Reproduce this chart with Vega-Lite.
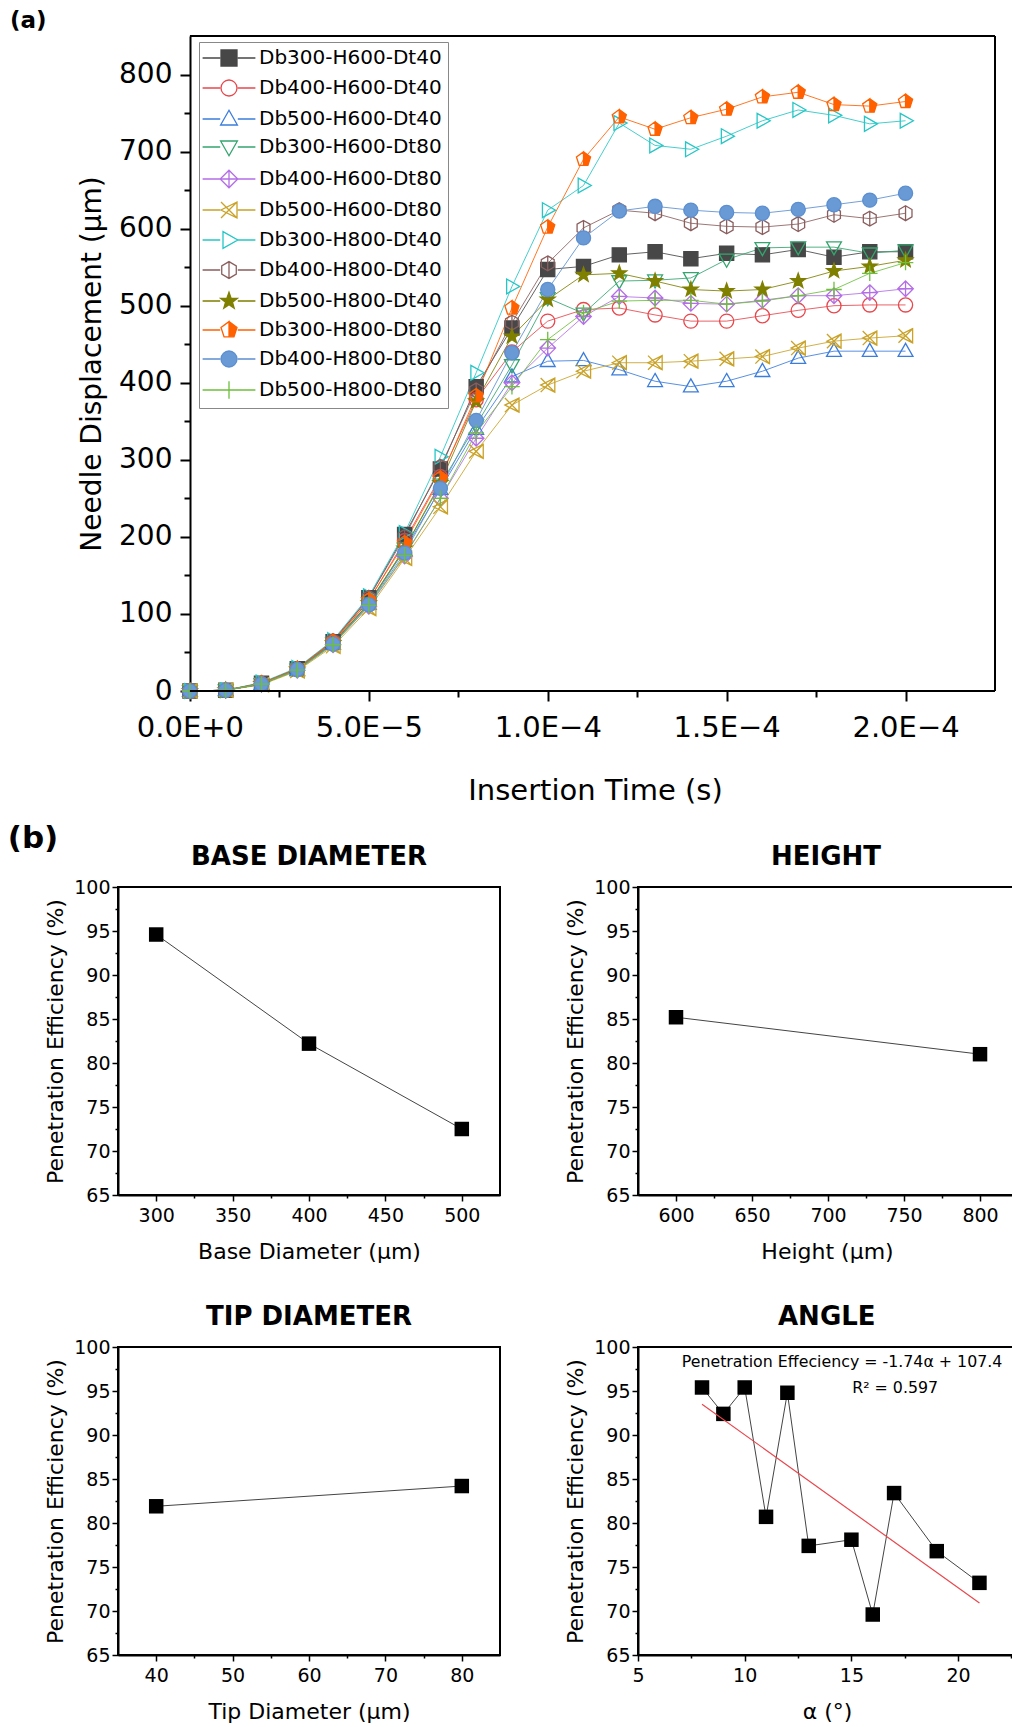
{
"$schema": "https://vega.github.io/schema/vega-lite/v6.json",
"padding": {"left": 7, "top": 10, "right": 0, "bottom": 0},
"background": "white",
"config": {
  "font": "DejaVu Sans",
  "view": {"stroke": "black", "strokeWidth": 2},
  "axis": {"grid": false, "domainColor": "black", "domainWidth": 2, "tickColor": "black", "tickWidth": 2, "labelColor": "black", "titleColor": "black", "labelFont": "DejaVu Sans", "titleFont": "DejaVu Sans", "titleFontWeight": "normal", "labelFlush": false, "labelOverlap": false}
},
"spacing": 18,
"vconcat": [
{
  "width": 877, "height": 655,
  "view": {"stroke": null},
  "title": {"text": "(a)", "anchor": "start", "frame": "group", "dx": -108, "offset": 2, "fontSize": 23, "fontWeight": "bold", "font": "DejaVu Sans", "color": "black"},
  "data": {"values": [
{"s":"Db300-H600-Dt40","t":0,"d":0},{"s":"Db300-H600-Dt40","t":1e-5,"d":1},{"s":"Db300-H600-Dt40","t":2e-5,"d":10},{"s":"Db300-H600-Dt40","t":3e-5,"d":29},{"s":"Db300-H600-Dt40","t":4e-5,"d":64},{"s":"Db300-H600-Dt40","t":5e-5,"d":121},{"s":"Db300-H600-Dt40","t":6e-5,"d":203},{"s":"Db300-H600-Dt40","t":7e-5,"d":288},{"s":"Db300-H600-Dt40","t":8e-5,"d":395},{"s":"Db300-H600-Dt40","t":9e-5,"d":471},{"s":"Db300-H600-Dt40","t":1e-4,"d":547},{"s":"Db300-H600-Dt40","t":1.1e-4,"d":551},{"s":"Db300-H600-Dt40","t":1.2e-4,"d":566},{"s":"Db300-H600-Dt40","t":1.3e-4,"d":570},{"s":"Db300-H600-Dt40","t":1.4e-4,"d":561},{"s":"Db300-H600-Dt40","t":1.5e-4,"d":568},{"s":"Db300-H600-Dt40","t":1.6e-4,"d":566},{"s":"Db300-H600-Dt40","t":1.7e-4,"d":573},{"s":"Db300-H600-Dt40","t":1.8e-4,"d":563},{"s":"Db300-H600-Dt40","t":1.9e-4,"d":570},{"s":"Db300-H600-Dt40","t":2e-4,"d":570},
{"s":"Db400-H600-Dt40","t":0,"d":0},{"s":"Db400-H600-Dt40","t":1e-5,"d":1},{"s":"Db400-H600-Dt40","t":2e-5,"d":9},{"s":"Db400-H600-Dt40","t":3e-5,"d":28},{"s":"Db400-H600-Dt40","t":4e-5,"d":63},{"s":"Db400-H600-Dt40","t":5e-5,"d":117},{"s":"Db400-H600-Dt40","t":6e-5,"d":195},{"s":"Db400-H600-Dt40","t":7e-5,"d":278},{"s":"Db400-H600-Dt40","t":8e-5,"d":378},{"s":"Db400-H600-Dt40","t":9e-5,"d":440},{"s":"Db400-H600-Dt40","t":1e-4,"d":480},{"s":"Db400-H600-Dt40","t":1.1e-4,"d":495},{"s":"Db400-H600-Dt40","t":1.2e-4,"d":497},{"s":"Db400-H600-Dt40","t":1.3e-4,"d":488},{"s":"Db400-H600-Dt40","t":1.4e-4,"d":480},{"s":"Db400-H600-Dt40","t":1.5e-4,"d":480},{"s":"Db400-H600-Dt40","t":1.6e-4,"d":487},{"s":"Db400-H600-Dt40","t":1.7e-4,"d":494},{"s":"Db400-H600-Dt40","t":1.8e-4,"d":500},{"s":"Db400-H600-Dt40","t":1.9e-4,"d":501},{"s":"Db400-H600-Dt40","t":2e-4,"d":501},
{"s":"Db500-H600-Dt40","t":0,"d":0},{"s":"Db500-H600-Dt40","t":1e-5,"d":1},{"s":"Db500-H600-Dt40","t":2e-5,"d":9},{"s":"Db500-H600-Dt40","t":3e-5,"d":27},{"s":"Db500-H600-Dt40","t":4e-5,"d":61},{"s":"Db500-H600-Dt40","t":5e-5,"d":113},{"s":"Db500-H600-Dt40","t":6e-5,"d":183},{"s":"Db500-H600-Dt40","t":7e-5,"d":262},{"s":"Db500-H600-Dt40","t":8e-5,"d":340},{"s":"Db500-H600-Dt40","t":9e-5,"d":408},{"s":"Db500-H600-Dt40","t":1e-4,"d":428},{"s":"Db500-H600-Dt40","t":1.1e-4,"d":429},{"s":"Db500-H600-Dt40","t":1.2e-4,"d":417},{"s":"Db500-H600-Dt40","t":1.3e-4,"d":402},{"s":"Db500-H600-Dt40","t":1.4e-4,"d":395},{"s":"Db500-H600-Dt40","t":1.5e-4,"d":402},{"s":"Db500-H600-Dt40","t":1.6e-4,"d":415},{"s":"Db500-H600-Dt40","t":1.7e-4,"d":432},{"s":"Db500-H600-Dt40","t":1.8e-4,"d":441},{"s":"Db500-H600-Dt40","t":1.9e-4,"d":441},{"s":"Db500-H600-Dt40","t":2e-4,"d":441},
{"s":"Db300-H600-Dt80","t":0,"d":0},{"s":"Db300-H600-Dt80","t":1e-5,"d":1},{"s":"Db300-H600-Dt80","t":2e-5,"d":9},{"s":"Db300-H600-Dt80","t":3e-5,"d":28},{"s":"Db300-H600-Dt80","t":4e-5,"d":62},{"s":"Db300-H600-Dt80","t":5e-5,"d":114},{"s":"Db300-H600-Dt80","t":6e-5,"d":185},{"s":"Db300-H600-Dt80","t":7e-5,"d":268},{"s":"Db300-H600-Dt80","t":8e-5,"d":345},{"s":"Db300-H600-Dt80","t":9e-5,"d":423},{"s":"Db300-H600-Dt80","t":1e-4,"d":510},{"s":"Db300-H600-Dt80","t":1.1e-4,"d":490},{"s":"Db300-H600-Dt80","t":1.2e-4,"d":532},{"s":"Db300-H600-Dt80","t":1.3e-4,"d":533},{"s":"Db300-H600-Dt80","t":1.4e-4,"d":536},{"s":"Db300-H600-Dt80","t":1.5e-4,"d":560},{"s":"Db300-H600-Dt80","t":1.6e-4,"d":575},{"s":"Db300-H600-Dt80","t":1.7e-4,"d":576},{"s":"Db300-H600-Dt80","t":1.8e-4,"d":576},{"s":"Db300-H600-Dt80","t":1.9e-4,"d":568},{"s":"Db300-H600-Dt80","t":2e-4,"d":572},
{"s":"Db400-H600-Dt80","t":0,"d":0},{"s":"Db400-H600-Dt80","t":1e-5,"d":1},{"s":"Db400-H600-Dt80","t":2e-5,"d":9},{"s":"Db400-H600-Dt80","t":3e-5,"d":27},{"s":"Db400-H600-Dt80","t":4e-5,"d":60},{"s":"Db400-H600-Dt80","t":5e-5,"d":110},{"s":"Db400-H600-Dt80","t":6e-5,"d":175},{"s":"Db400-H600-Dt80","t":7e-5,"d":250},{"s":"Db400-H600-Dt80","t":8e-5,"d":328},{"s":"Db400-H600-Dt80","t":9e-5,"d":400},{"s":"Db400-H600-Dt80","t":1e-4,"d":445},{"s":"Db400-H600-Dt80","t":1.1e-4,"d":486},{"s":"Db400-H600-Dt80","t":1.2e-4,"d":512},{"s":"Db400-H600-Dt80","t":1.3e-4,"d":510},{"s":"Db400-H600-Dt80","t":1.4e-4,"d":503},{"s":"Db400-H600-Dt80","t":1.5e-4,"d":502},{"s":"Db400-H600-Dt80","t":1.6e-4,"d":507},{"s":"Db400-H600-Dt80","t":1.7e-4,"d":513},{"s":"Db400-H600-Dt80","t":1.8e-4,"d":513},{"s":"Db400-H600-Dt80","t":1.9e-4,"d":517},{"s":"Db400-H600-Dt80","t":2e-4,"d":522},
{"s":"Db500-H600-Dt80","t":0,"d":0},{"s":"Db500-H600-Dt80","t":1e-5,"d":1},{"s":"Db500-H600-Dt80","t":2e-5,"d":8},{"s":"Db500-H600-Dt80","t":3e-5,"d":26},{"s":"Db500-H600-Dt80","t":4e-5,"d":58},{"s":"Db500-H600-Dt80","t":5e-5,"d":107},{"s":"Db500-H600-Dt80","t":6e-5,"d":172},{"s":"Db500-H600-Dt80","t":7e-5,"d":239},{"s":"Db500-H600-Dt80","t":8e-5,"d":311},{"s":"Db500-H600-Dt80","t":9e-5,"d":371},{"s":"Db500-H600-Dt80","t":1e-4,"d":397},{"s":"Db500-H600-Dt80","t":1.1e-4,"d":415},{"s":"Db500-H600-Dt80","t":1.2e-4,"d":426},{"s":"Db500-H600-Dt80","t":1.3e-4,"d":426},{"s":"Db500-H600-Dt80","t":1.4e-4,"d":428},{"s":"Db500-H600-Dt80","t":1.5e-4,"d":431},{"s":"Db500-H600-Dt80","t":1.6e-4,"d":434},{"s":"Db500-H600-Dt80","t":1.7e-4,"d":445},{"s":"Db500-H600-Dt80","t":1.8e-4,"d":454},{"s":"Db500-H600-Dt80","t":1.9e-4,"d":458},{"s":"Db500-H600-Dt80","t":2e-4,"d":461},
{"s":"Db300-H800-Dt40","t":0,"d":0},{"s":"Db300-H800-Dt40","t":1e-5,"d":1},{"s":"Db300-H800-Dt40","t":2e-5,"d":11},{"s":"Db300-H800-Dt40","t":3e-5,"d":30},{"s":"Db300-H800-Dt40","t":4e-5,"d":66},{"s":"Db300-H800-Dt40","t":5e-5,"d":123},{"s":"Db300-H800-Dt40","t":6e-5,"d":205},{"s":"Db300-H800-Dt40","t":7e-5,"d":304},{"s":"Db300-H800-Dt40","t":8e-5,"d":413},{"s":"Db300-H800-Dt40","t":9e-5,"d":525},{"s":"Db300-H800-Dt40","t":1e-4,"d":624},{"s":"Db300-H800-Dt40","t":1.1e-4,"d":656},{"s":"Db300-H800-Dt40","t":1.2e-4,"d":737},{"s":"Db300-H800-Dt40","t":1.3e-4,"d":708},{"s":"Db300-H800-Dt40","t":1.4e-4,"d":703},{"s":"Db300-H800-Dt40","t":1.5e-4,"d":720},{"s":"Db300-H800-Dt40","t":1.6e-4,"d":740},{"s":"Db300-H800-Dt40","t":1.7e-4,"d":754},{"s":"Db300-H800-Dt40","t":1.8e-4,"d":747},{"s":"Db300-H800-Dt40","t":1.9e-4,"d":736},{"s":"Db300-H800-Dt40","t":2e-4,"d":740},
{"s":"Db400-H800-Dt40","t":0,"d":0},{"s":"Db400-H800-Dt40","t":1e-5,"d":1},{"s":"Db400-H800-Dt40","t":2e-5,"d":10},{"s":"Db400-H800-Dt40","t":3e-5,"d":29},{"s":"Db400-H800-Dt40","t":4e-5,"d":65},{"s":"Db400-H800-Dt40","t":5e-5,"d":121},{"s":"Db400-H800-Dt40","t":6e-5,"d":200},{"s":"Db400-H800-Dt40","t":7e-5,"d":291},{"s":"Db400-H800-Dt40","t":8e-5,"d":390},{"s":"Db400-H800-Dt40","t":9e-5,"d":478},{"s":"Db400-H800-Dt40","t":1e-4,"d":555},{"s":"Db400-H800-Dt40","t":1.1e-4,"d":601},{"s":"Db400-H800-Dt40","t":1.2e-4,"d":624},{"s":"Db400-H800-Dt40","t":1.3e-4,"d":620},{"s":"Db400-H800-Dt40","t":1.4e-4,"d":607},{"s":"Db400-H800-Dt40","t":1.5e-4,"d":603},{"s":"Db400-H800-Dt40","t":1.6e-4,"d":602},{"s":"Db400-H800-Dt40","t":1.7e-4,"d":606},{"s":"Db400-H800-Dt40","t":1.8e-4,"d":618},{"s":"Db400-H800-Dt40","t":1.9e-4,"d":613},{"s":"Db400-H800-Dt40","t":2e-4,"d":620},
{"s":"Db500-H800-Dt40","t":0,"d":0},{"s":"Db500-H800-Dt40","t":1e-5,"d":1},{"s":"Db500-H800-Dt40","t":2e-5,"d":9},{"s":"Db500-H800-Dt40","t":3e-5,"d":28},{"s":"Db500-H800-Dt40","t":4e-5,"d":62},{"s":"Db500-H800-Dt40","t":5e-5,"d":114},{"s":"Db500-H800-Dt40","t":6e-5,"d":185},{"s":"Db500-H800-Dt40","t":7e-5,"d":270},{"s":"Db500-H800-Dt40","t":8e-5,"d":376},{"s":"Db500-H800-Dt40","t":9e-5,"d":460},{"s":"Db500-H800-Dt40","t":1e-4,"d":508},{"s":"Db500-H800-Dt40","t":1.1e-4,"d":540},{"s":"Db500-H800-Dt40","t":1.2e-4,"d":542},{"s":"Db500-H800-Dt40","t":1.3e-4,"d":532},{"s":"Db500-H800-Dt40","t":1.4e-4,"d":521},{"s":"Db500-H800-Dt40","t":1.5e-4,"d":519},{"s":"Db500-H800-Dt40","t":1.6e-4,"d":521},{"s":"Db500-H800-Dt40","t":1.7e-4,"d":532},{"s":"Db500-H800-Dt40","t":1.8e-4,"d":545},{"s":"Db500-H800-Dt40","t":1.9e-4,"d":551},{"s":"Db500-H800-Dt40","t":2e-4,"d":559},
{"s":"Db300-H800-Dt80","t":0,"d":0},{"s":"Db300-H800-Dt80","t":1e-5,"d":1},{"s":"Db300-H800-Dt80","t":2e-5,"d":10},{"s":"Db300-H800-Dt80","t":3e-5,"d":29},{"s":"Db300-H800-Dt80","t":4e-5,"d":64},{"s":"Db300-H800-Dt80","t":5e-5,"d":118},{"s":"Db300-H800-Dt80","t":6e-5,"d":192},{"s":"Db300-H800-Dt80","t":7e-5,"d":276},{"s":"Db300-H800-Dt80","t":8e-5,"d":383},{"s":"Db300-H800-Dt80","t":9e-5,"d":497},{"s":"Db300-H800-Dt80","t":1e-4,"d":602},{"s":"Db300-H800-Dt80","t":1.1e-4,"d":690},{"s":"Db300-H800-Dt80","t":1.2e-4,"d":745},{"s":"Db300-H800-Dt80","t":1.3e-4,"d":729},{"s":"Db300-H800-Dt80","t":1.4e-4,"d":744},{"s":"Db300-H800-Dt80","t":1.5e-4,"d":755},{"s":"Db300-H800-Dt80","t":1.6e-4,"d":771},{"s":"Db300-H800-Dt80","t":1.7e-4,"d":777},{"s":"Db300-H800-Dt80","t":1.8e-4,"d":761},{"s":"Db300-H800-Dt80","t":1.9e-4,"d":759},{"s":"Db300-H800-Dt80","t":2e-4,"d":765},
{"s":"Db400-H800-Dt80","t":0,"d":0},{"s":"Db400-H800-Dt80","t":1e-5,"d":1},{"s":"Db400-H800-Dt80","t":2e-5,"d":9},{"s":"Db400-H800-Dt80","t":3e-5,"d":28},{"s":"Db400-H800-Dt80","t":4e-5,"d":61},{"s":"Db400-H800-Dt80","t":5e-5,"d":112},{"s":"Db400-H800-Dt80","t":6e-5,"d":179},{"s":"Db400-H800-Dt80","t":7e-5,"d":263},{"s":"Db400-H800-Dt80","t":8e-5,"d":351},{"s":"Db400-H800-Dt80","t":9e-5,"d":439},{"s":"Db400-H800-Dt80","t":1e-4,"d":521},{"s":"Db400-H800-Dt80","t":1.1e-4,"d":588},{"s":"Db400-H800-Dt80","t":1.2e-4,"d":623},{"s":"Db400-H800-Dt80","t":1.3e-4,"d":629},{"s":"Db400-H800-Dt80","t":1.4e-4,"d":624},{"s":"Db400-H800-Dt80","t":1.5e-4,"d":621},{"s":"Db400-H800-Dt80","t":1.6e-4,"d":620},{"s":"Db400-H800-Dt80","t":1.7e-4,"d":625},{"s":"Db400-H800-Dt80","t":1.8e-4,"d":631},{"s":"Db400-H800-Dt80","t":1.9e-4,"d":637},{"s":"Db400-H800-Dt80","t":2e-4,"d":646},
{"s":"Db500-H800-Dt80","t":0,"d":0},{"s":"Db500-H800-Dt80","t":1e-5,"d":1},{"s":"Db500-H800-Dt80","t":2e-5,"d":9},{"s":"Db500-H800-Dt80","t":3e-5,"d":27},{"s":"Db500-H800-Dt80","t":4e-5,"d":60},{"s":"Db500-H800-Dt80","t":5e-5,"d":111},{"s":"Db500-H800-Dt80","t":6e-5,"d":176},{"s":"Db500-H800-Dt80","t":7e-5,"d":250},{"s":"Db500-H800-Dt80","t":8e-5,"d":335},{"s":"Db500-H800-Dt80","t":9e-5,"d":395},{"s":"Db500-H800-Dt80","t":1e-4,"d":456},{"s":"Db500-H800-Dt80","t":1.1e-4,"d":491},{"s":"Db500-H800-Dt80","t":1.2e-4,"d":506},{"s":"Db500-H800-Dt80","t":1.3e-4,"d":507},{"s":"Db500-H800-Dt80","t":1.4e-4,"d":507},{"s":"Db500-H800-Dt80","t":1.5e-4,"d":502},{"s":"Db500-H800-Dt80","t":1.6e-4,"d":506},{"s":"Db500-H800-Dt80","t":1.7e-4,"d":513},{"s":"Db500-H800-Dt80","t":1.8e-4,"d":521},{"s":"Db500-H800-Dt80","t":1.9e-4,"d":542},{"s":"Db500-H800-Dt80","t":2e-4,"d":556}
  ]},
  "resolve": {"axis": {"x": "independent", "y": "independent"}, "scale": {"stroke": "independent", "fill": "independent", "shape": "independent"}},
  "layer": [
    {
      "mark": {"type": "line", "strokeWidth": 1, "opacity": 0.85},
      "encoding": {
        "x": {"field": "t", "type": "quantitative", "scale": {"domain": [-0.0000201, 0.000225], "nice": false, "zero": false},
              "axis": {"orient": "bottom", "domain": false, "values": [0, 0.00005, 0.0001, 0.00015, 0.0002], "labelExpr": "datum.value < 0.000025 ? '0.0E+0' : datum.value < 0.000075 ? '5.0E−5' : datum.value < 0.000125 ? '1.0E−4' : datum.value < 0.000175 ? '1.5E−4' : '2.0E−4'", "title": "Insertion Time (s)", "titleX": 477, "labelFontSize": 29, "titleFontSize": 29, "tickSize": 10, "labelPadding": 12, "titlePadding": 34}},
        "y": {"field": "d", "type": "quantitative", "scale": {"domain": [0, 850], "nice": false},
              "axis": {"orient": "left", "offset": -72, "values": [0, 100, 200, 300, 400, 500, 600, 700, 800], "title": "Needle Displacement (µm)", "labelFontSize": 28, "titleFontSize": 28, "tickSize": 10, "labelPadding": 8, "titlePadding": 12}},
        "stroke": {"field": "s", "type": "nominal", "legend": null,
                  "scale": {"domain": ["Db300-H600-Dt40","Db400-H600-Dt40","Db500-H600-Dt40","Db300-H600-Dt80","Db400-H600-Dt80","Db500-H600-Dt80","Db300-H800-Dt40","Db400-H800-Dt40","Db500-H800-Dt40","Db300-H800-Dt80","Db400-H800-Dt80","Db500-H800-Dt80"],
                            "range": ["#474747","#e8474c","#3b7ddd","#34a56f","#b46ee6","#c9a227","#26c6c6","#8b5e5e","#7f7f00","#ff6000","#5b8fd0","#6dbf3c"]}}
      }
    },
    {
      "mark": {"type": "point", "size": 200, "strokeWidth": 1.3, "opacity": 1},
      "encoding": {
        "x": {"field": "t", "type": "quantitative", "axis": {"orient": "bottom", "values": [0.000025, 0.000075, 0.000125, 0.000175], "labels": false, "domain": false, "tickSize": 6, "title": null}},
        "y": {"field": "d", "type": "quantitative", "axis": {"orient": "left", "offset": -72, "values": [50, 150, 250, 350, 450, 550, 650, 750], "labels": false, "domain": false, "tickSize": 6, "title": null}},
        "stroke": {"field": "s", "type": "nominal", "legend": null,
                   "scale": {"domain": ["Db300-H600-Dt40","Db400-H600-Dt40","Db500-H600-Dt40","Db300-H600-Dt80","Db400-H600-Dt80","Db500-H600-Dt80","Db300-H800-Dt40","Db400-H800-Dt40","Db500-H800-Dt40","Db300-H800-Dt80","Db400-H800-Dt80","Db500-H800-Dt80"],
                             "range": ["#474747","#e8474c","#3b7ddd","#34a56f","#b46ee6","#c9a227","#26c6c6","#8b5e5e","#7f7f00","#ff6000","#5b8fd0","#6dbf3c"]}},
        "fill": {"field": "s", "type": "nominal", "legend": null,
                 "scale": {"domain": ["Db300-H600-Dt40","Db400-H600-Dt40","Db500-H600-Dt40","Db300-H600-Dt80","Db400-H600-Dt80","Db500-H600-Dt80","Db300-H800-Dt40","Db400-H800-Dt40","Db500-H800-Dt40","Db300-H800-Dt80","Db400-H800-Dt80","Db500-H800-Dt80"],
                           "range": ["#474747","transparent","transparent","transparent","transparent","transparent","transparent","transparent","#7f7f00","#ff6000","#6a9ad6","transparent"]}},
        "shape": {"field": "s", "type": "nominal", "legend": null,
                  "scale": {"domain": ["Db300-H600-Dt40","Db400-H600-Dt40","Db500-H600-Dt40","Db300-H600-Dt80","Db400-H600-Dt80","Db500-H600-Dt80","Db300-H800-Dt40","Db400-H800-Dt40","Db500-H800-Dt40","Db300-H800-Dt80","Db400-H800-Dt80","Db500-H800-Dt80"],
                            "range": ["M-1,-1H1V1H-1Z","M1,0C1,0.55,0.55,1,0,1C-0.55,1,-1,0.55,-1,0C-1,-0.55,-0.55,-1,0,-1C0.55,-1,1,-0.55,1,0Z","M0,-1.1L1.05,0.75H-1.05Z","M-1.05,-0.75H1.05L0,1.1Z","M0,-1.1L1.1,0L0,1.1L-1.1,0ZM0,-1.1V1.1M-1.1,0H1.1","M-1,-1L1,1M-1,1L1,-1M1,-1L-1,0L1,1Z","M-0.75,-1.05L1.1,0L-0.75,1.05Z","M0,-1.05L0.91,-0.52V0.52L0,1.05L-0.91,0.52V-0.52ZM0,-1.05V1.05","M0,-1.1L0.26,-0.36L1.05,-0.34L0.43,0.14L0.65,0.89L0,0.45L-0.65,0.89L-0.43,0.14L-1.05,-0.34L-0.26,-0.36Z","M0,-1.05L1,-0.32L0.62,0.85L-0.62,0.85L-1,-0.32ZM0,-1.05L-1,-0.32L-0.62,0.85L0,0.85Z","M1,0C1,0.55,0.55,1,0,1C-0.55,1,-1,0.55,-1,0C-1,-0.55,-0.55,-1,0,-1C0.55,-1,1,-0.55,1,0Z","M-1.1,0H1.1M0,-1.1V1.1"]}}
      }
    },
    {
      "data": {"values": []},
      "mark": {"type": "point", "size": 200, "strokeWidth": 1.3, "opacity": 1},
      "encoding": {
        "x": {"field": "t", "type": "quantitative", "axis": null},
        "y": {"field": "d", "type": "quantitative", "axis": null},
        "stroke": {"field": "s", "type": "nominal",
                   "scale": {"domain": ["Db300-H600-Dt40","Db400-H600-Dt40","Db500-H600-Dt40","Db300-H600-Dt80","Db400-H600-Dt80","Db500-H600-Dt80","Db300-H800-Dt40","Db400-H800-Dt40","Db500-H800-Dt40","Db300-H800-Dt80","Db400-H800-Dt80","Db500-H800-Dt80"],
                             "range": ["#474747","#e8474c","#3b7ddd","#34a56f","#b46ee6","#c9a227","#26c6c6","#8b5e5e","#7f7f00","#ff6000","#5b8fd0","#6dbf3c"]},
                   "legend": {"title": null, "orient": "none", "legendX": 81, "legendY": 6, "strokeColor": "#888888", "fillColor": "white", "padding": 6, "labelFont": "DejaVu Sans", "labelFontSize": 20, "labelColor": "black", "labelLimit": 400, "symbolSize": 256, "symbolStrokeWidth": 1.3, "symbolOffset": 14, "labelOffset": 20, "rowPadding": 8}},
        "fill": {"field": "s", "type": "nominal",
                 "scale": {"domain": ["Db300-H600-Dt40","Db400-H600-Dt40","Db500-H600-Dt40","Db300-H600-Dt80","Db400-H600-Dt80","Db500-H600-Dt80","Db300-H800-Dt40","Db400-H800-Dt40","Db500-H800-Dt40","Db300-H800-Dt80","Db400-H800-Dt80","Db500-H800-Dt80"],
                           "range": ["#474747","transparent","transparent","transparent","transparent","transparent","transparent","transparent","#7f7f00","#ff6000","#6a9ad6","transparent"]},
                 "legend": {"title": null, "orient": "none", "legendX": 81, "legendY": 6, "strokeColor": "#888888", "fillColor": "white", "padding": 6, "labelFont": "DejaVu Sans", "labelFontSize": 20, "labelColor": "black", "labelLimit": 400, "symbolSize": 256, "symbolStrokeWidth": 1.3, "symbolOffset": 14, "labelOffset": 20, "rowPadding": 8}},
        "shape": {"field": "s", "type": "nominal",
                  "scale": {"domain": ["Db300-H600-Dt40","Db400-H600-Dt40","Db500-H600-Dt40","Db300-H600-Dt80","Db400-H600-Dt80","Db500-H600-Dt80","Db300-H800-Dt40","Db400-H800-Dt40","Db500-H800-Dt40","Db300-H800-Dt80","Db400-H800-Dt80","Db500-H800-Dt80"],
                            "range": ["M-3.3,0H-1.1M1.1,0H3.3M-1,-1H1V1H-1Z","M-3.3,0H-1.1M1.1,0H3.3M1,0C1,0.55,0.55,1,0,1C-0.55,1,-1,0.55,-1,0C-1,-0.55,-0.55,-1,0,-1C0.55,-1,1,-0.55,1,0Z","M-3.3,0H-1.1M1.1,0H3.3M0,-1.1L1.05,0.75H-1.05Z","M-3.3,0H-1.1M1.1,0H3.3M-1.05,-0.75H1.05L0,1.1Z","M-3.3,0H-1.1M1.1,0H3.3M0,-1.1L1.1,0L0,1.1L-1.1,0ZM0,-1.1V1.1M-1.1,0H1.1","M-3.3,0H-1.1M1.1,0H3.3M-1,-1L1,1M-1,1L1,-1M1,-1L-1,0L1,1Z","M-3.3,0H-1.1M1.1,0H3.3M-0.75,-1.05L1.1,0L-0.75,1.05Z","M-3.3,0H-1.1M1.1,0H3.3M0,-1.05L0.91,-0.52V0.52L0,1.05L-0.91,0.52V-0.52ZM0,-1.05V1.05","M-3.3,0H-1.1M1.1,0H3.3M0,-1.1L0.26,-0.36L1.05,-0.34L0.43,0.14L0.65,0.89L0,0.45L-0.65,0.89L-0.43,0.14L-1.05,-0.34L-0.26,-0.36Z","M-3.3,0H-1.1M1.1,0H3.3M0,-1.05L1,-0.32L0.62,0.85L-0.62,0.85L-1,-0.32ZM0,-1.05L-1,-0.32L-0.62,0.85L0,0.85Z","M-3.3,0H-1.1M1.1,0H3.3M1,0C1,0.55,0.55,1,0,1C-0.55,1,-1,0.55,-1,0C-1,-0.55,-0.55,-1,0,-1C0.55,-1,1,-0.55,1,0Z","M-3.3,0H-1.1M1.1,0H3.3M-1.1,0H1.1M0,-1.1V1.1"]},
                  "legend": {"title": null, "orient": "none", "legendX": 81, "legendY": 6, "strokeColor": "#888888", "fillColor": "white", "padding": 6, "labelFont": "DejaVu Sans", "labelFontSize": 20, "labelColor": "black", "labelLimit": 400, "symbolSize": 256, "symbolStrokeWidth": 1.3, "symbolOffset": 14, "labelOffset": 20, "rowPadding": 8}}
      }
    },
    {"data": {"values": [{}]},
     "mark": {"type": "rule", "color": "black", "strokeWidth": 2},
     "encoding": {"x": {"datum": 0, "type": "quantitative", "axis": null}, "x2": {"datum": 0.000225}, "y": {"datum": 0, "type": "quantitative", "axis": null}}},
    {"data": {"values": [{}]},
     "mark": {"type": "rule", "color": "black", "strokeWidth": 2},
     "encoding": {"x": {"datum": 0, "type": "quantitative", "axis": null}, "x2": {"datum": 0.000225}, "y": {"datum": 850, "type": "quantitative", "axis": null}}},
    {"data": {"values": [{}]},
     "mark": {"type": "rule", "color": "black", "strokeWidth": 2},
     "encoding": {"x": {"datum": 0.000225, "type": "quantitative", "axis": null}, "y": {"datum": 0, "type": "quantitative", "axis": null}, "y2": {"datum": 850}}}
  ]
},
{
  "columns": 2,
  "spacing": {"row": 40, "column": 62},
  "title": {"text": "(b)", "anchor": "start", "frame": "bounds", "dx": -36, "offset": -12, "fontSize": 31, "fontWeight": "bold", "font": "DejaVu Sans", "color": "black"},
  "concat": [
    {
      "width": 382, "height": 308,
      "title": {"text": "BASE DIAMETER", "anchor": "middle", "frame": "group", "offset": 8, "fontSize": 26, "fontWeight": "bold", "font": "DejaVu Sans", "color": "black"},
      "data": {"values": [{"base": 300, "pe": 94.6}, {"base": 400, "pe": 82.2}, {"base": 500, "pe": 72.5}]},
      "resolve": {"axis": {"x": "independent", "y": "independent"}},
      "layer": [
        {"mark": {"type": "line", "color": "#444444", "strokeWidth": 1},
         "encoding": {
           "x": {"field": "base", "type": "quantitative", "scale": {"domain": [275, 525], "nice": false, "zero": false}, "axis": {"orient": "bottom", "values": [300, 350, 400, 450, 500], "title": "Base Diameter (µm)", "labelFontSize": 19, "titleFontSize": 22, "tickSize": 6, "tickWidth": 1.5, "labelPadding": 5, "titlePadding": 16}},
           "y": {"field": "pe", "type": "quantitative", "scale": {"domain": [65, 100], "nice": false, "zero": false}, "axis": {"orient": "left", "values": [65, 70, 75, 80, 85, 90, 95, 100], "title": "Penetration Efficiency (%)", "labelFontSize": 19, "titleFontSize": 22, "tickSize": 6, "tickWidth": 1.5, "labelPadding": 2, "titlePadding": 6}}}},
        {"mark": {"type": "square", "size": 210, "color": "black", "opacity": 1},
         "encoding": {
           "x": {"field": "base", "type": "quantitative", "axis": {"orient": "bottom", "values": [325, 375, 425, 475], "labels": false, "domain": false, "tickSize": 3, "tickWidth": 1.5, "title": null}},
           "y": {"field": "pe", "type": "quantitative", "axis": {"orient": "left", "values": [67.5, 72.5, 77.5, 82.5, 87.5, 92.5, 97.5], "labels": false, "domain": false, "tickSize": 3, "tickWidth": 1.5, "title": null}}}}
      ]
    },
    {
      "width": 382, "height": 308,
      "title": {"text": "HEIGHT", "anchor": "start", "frame": "group", "dx": 133, "offset": 8, "fontSize": 26, "fontWeight": "bold", "font": "DejaVu Sans", "color": "black"},
      "data": {"values": [{"h": 600, "pe": 85.2}, {"h": 800, "pe": 81.0}]},
      "resolve": {"axis": {"x": "independent", "y": "independent"}},
      "layer": [
        {"mark": {"type": "line", "color": "#444444", "strokeWidth": 1},
         "encoding": {
           "x": {"field": "h", "type": "quantitative", "scale": {"domain": [575, 826.3], "nice": false, "zero": false}, "axis": {"orient": "bottom", "values": [600, 650, 700, 750, 800], "title": "Height (µm)", "titleX": 189, "labelFontSize": 19, "titleFontSize": 22, "tickSize": 6, "tickWidth": 1.5, "labelPadding": 5, "titlePadding": 16}},
           "y": {"field": "pe", "type": "quantitative", "scale": {"domain": [65, 100], "nice": false, "zero": false}, "axis": {"orient": "left", "values": [65, 70, 75, 80, 85, 90, 95, 100], "title": "Penetration Efficiency (%)", "labelFontSize": 19, "titleFontSize": 22, "tickSize": 6, "tickWidth": 1.5, "labelPadding": 2, "titlePadding": 6}}}},
        {"mark": {"type": "square", "size": 210, "color": "black", "opacity": 1},
         "encoding": {
           "x": {"field": "h", "type": "quantitative", "axis": {"orient": "bottom", "values": [625, 675, 725, 775, 825], "labels": false, "domain": false, "tickSize": 3, "tickWidth": 1.5, "title": null}},
           "y": {"field": "pe", "type": "quantitative", "axis": {"orient": "left", "values": [67.5, 72.5, 77.5, 82.5, 87.5, 92.5, 97.5], "labels": false, "domain": false, "tickSize": 3, "tickWidth": 1.5, "title": null}}}}
      ]
    },
    {
      "width": 382, "height": 308,
      "title": {"text": "TIP DIAMETER", "anchor": "middle", "frame": "group", "offset": 8, "fontSize": 26, "fontWeight": "bold", "font": "DejaVu Sans", "color": "black"},
      "data": {"values": [{"tip": 40, "pe": 81.9}, {"tip": 80, "pe": 84.2}]},
      "resolve": {"axis": {"x": "independent", "y": "independent"}},
      "layer": [
        {"mark": {"type": "line", "color": "#444444", "strokeWidth": 1},
         "encoding": {
           "x": {"field": "tip", "type": "quantitative", "scale": {"domain": [35, 85], "nice": false, "zero": false}, "axis": {"orient": "bottom", "values": [40, 50, 60, 70, 80], "title": "Tip Diameter (µm)", "labelFontSize": 19, "titleFontSize": 22, "tickSize": 6, "tickWidth": 1.5, "labelPadding": 5, "titlePadding": 16}},
           "y": {"field": "pe", "type": "quantitative", "scale": {"domain": [65, 100], "nice": false, "zero": false}, "axis": {"orient": "left", "values": [65, 70, 75, 80, 85, 90, 95, 100], "title": "Penetration Efficiency (%)", "labelFontSize": 19, "titleFontSize": 22, "tickSize": 6, "tickWidth": 1.5, "labelPadding": 2, "titlePadding": 6}}}},
        {"mark": {"type": "square", "size": 210, "color": "black", "opacity": 1},
         "encoding": {
           "x": {"field": "tip", "type": "quantitative", "axis": {"orient": "bottom", "values": [45, 55, 65, 75], "labels": false, "domain": false, "tickSize": 3, "tickWidth": 1.5, "title": null}},
           "y": {"field": "pe", "type": "quantitative", "axis": {"orient": "left", "values": [67.5, 72.5, 77.5, 82.5, 87.5, 92.5, 97.5], "labels": false, "domain": false, "tickSize": 3, "tickWidth": 1.5, "title": null}}}}
      ]
    },
    {
      "width": 382, "height": 308,
      "title": {"text": "ANGLE", "anchor": "start", "frame": "group", "dx": 140, "offset": 8, "fontSize": 26, "fontWeight": "bold", "font": "DejaVu Sans", "color": "black"},
      "data": {"values": [{"a": 8, "pe": 95.4}, {"a": 9, "pe": 92.4}, {"a": 10, "pe": 95.4}, {"a": 11, "pe": 80.7}, {"a": 12, "pe": 94.8}, {"a": 13, "pe": 77.4}, {"a": 15, "pe": 78.1}, {"a": 16, "pe": 69.6}, {"a": 17, "pe": 83.4}, {"a": 19, "pe": 76.8}, {"a": 21, "pe": 73.2}]},
      "resolve": {"axis": {"x": "independent", "y": "independent"}},
      "layer": [
        {"mark": {"type": "line", "color": "#444444", "strokeWidth": 1},
         "encoding": {
           "x": {"field": "a", "type": "quantitative", "scale": {"domain": [5, 22.9], "nice": false, "zero": false}, "axis": {"orient": "bottom", "values": [5, 10, 15, 20], "title": "α (°)", "titleX": 189, "labelFontSize": 19, "titleFontSize": 22, "tickSize": 6, "tickWidth": 1.5, "labelPadding": 5, "titlePadding": 16}},
           "y": {"field": "pe", "type": "quantitative", "scale": {"domain": [65, 100], "nice": false, "zero": false}, "axis": {"orient": "left", "values": [65, 70, 75, 80, 85, 90, 95, 100], "title": "Penetration Efficiency (%)", "labelFontSize": 19, "titleFontSize": 22, "tickSize": 6, "tickWidth": 1.5, "labelPadding": 2, "titlePadding": 6}}}},
        {"mark": {"type": "square", "size": 210, "color": "black", "opacity": 1},
         "encoding": {
           "x": {"field": "a", "type": "quantitative", "axis": {"orient": "bottom", "values": [7.5, 12.5, 17.5, 22.5], "labels": false, "domain": false, "tickSize": 3, "tickWidth": 1.5, "title": null}},
           "y": {"field": "pe", "type": "quantitative", "axis": {"orient": "left", "values": [67.5, 72.5, 77.5, 82.5, 87.5, 92.5, 97.5], "labels": false, "domain": false, "tickSize": 3, "tickWidth": 1.5, "title": null}}}},
        {"data": {"values": [{"a": 8, "fit": 93.5}, {"a": 21, "fit": 70.9}]},
         "mark": {"type": "line", "color": "#e8474c", "strokeWidth": 1.2},
         "encoding": {
           "x": {"field": "a", "type": "quantitative", "axis": null},
           "y": {"field": "fit", "type": "quantitative", "axis": null}}},
        {"data": {"values": [{}]},
         "mark": {"type": "text", "align": "left", "baseline": "middle", "fontSize": 15.8, "font": "DejaVu Sans", "color": "black"},
         "encoding": {
           "x": {"datum": 7.05, "type": "quantitative", "axis": null},
           "y": {"datum": 98.3, "type": "quantitative", "axis": null},
           "text": {"value": "Penetration Effeciency = -1.74α + 107.4"}}},
        {"data": {"values": [{}]},
         "mark": {"type": "text", "align": "center", "baseline": "middle", "fontSize": 15.8, "font": "DejaVu Sans", "color": "black"},
         "encoding": {
           "x": {"datum": 17.05, "type": "quantitative", "axis": null},
           "y": {"datum": 95.3, "type": "quantitative", "axis": null},
           "text": {"value": "R² = 0.597"}}}
      ]
    }
  ]
}
]
}
